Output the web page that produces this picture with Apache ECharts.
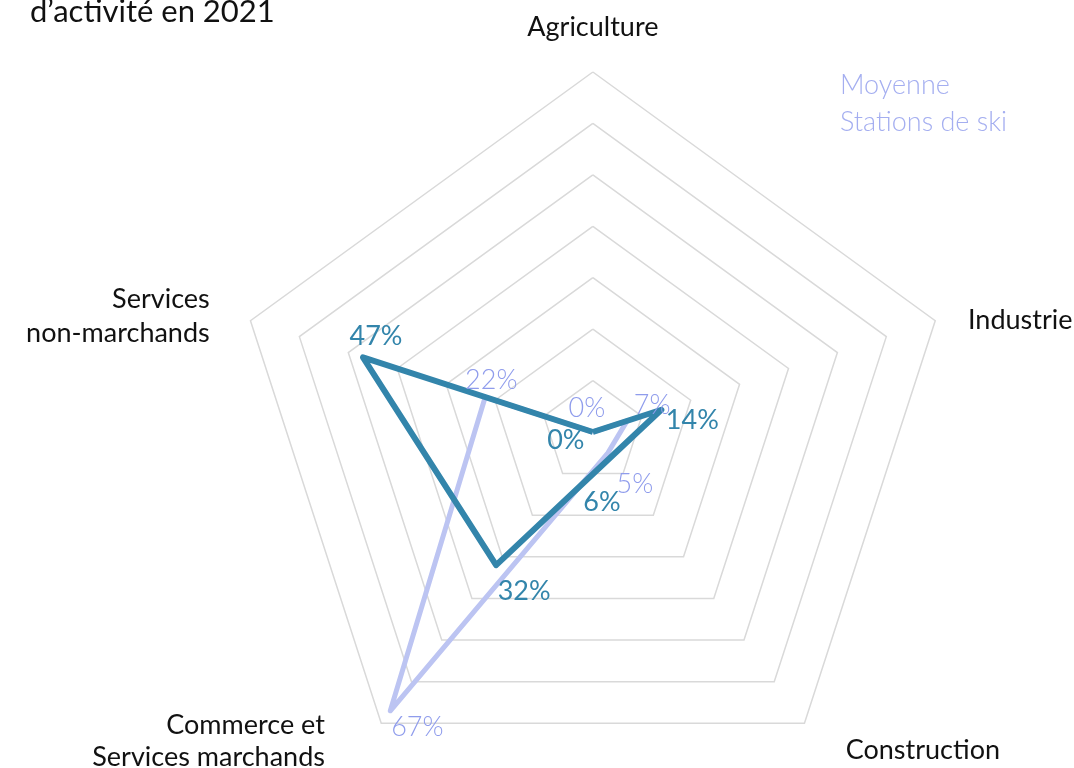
<!DOCTYPE html>
<html>
<head>
<meta charset="utf-8">
<script src="https://cdn.jsdelivr.net/npm/echarts@6/dist/echarts.min.js"></script>
<style>
  html, body { margin: 0; padding: 0; background: #fff; }
  #chart { width: 1074px; height: 768px; }
</style>
</head>
<body>
<div id="chart"></div>
<script>
// secteurs, dans l'ordre du radar (sens anti-horaire depuis le haut)
const categories = ['Agriculture', 'Services\nnon-marchands', 'Commerce et\nServices marchands', 'Construction', 'Industrie']
const stationValues = [0, 47, 32, 6, 14]
const moyenneValues = [0, 22, 67, 5, 7]
const maxValue = 70

const darkColor = '#3385ab'
const lightColor = '#bcc4f2'
const lightText = '#8f9cec'
const font = 'Lato'

// décalage des étiquettes par rapport au sommet
const stationLabelOffsets = [[-27, 8], [13, -21], [28, 26], [-9, 45], [31, 11]]
const moyenneLabelOffsets = [[-6, -24], [6, -17], [27, 17], [27, 31], [25, -16]]

// une série invisible par sommet, pour placer chaque étiquette
function labelSeries(name, values, offsets, color, weight) {
  return values.map((v, k) => ({
    name: name,
    type: 'radar',
    silent: true,
    symbol: 'circle',
    symbolSize: 1,
    itemStyle: { color: 'rgba(0,0,0,0)' },
    lineStyle: { width: 0, opacity: 0 },
    label: {
      show: true,
      position: 'inside',
      offset: offsets[k],
      color: color,
      fontFamily: font,
      fontSize: 27,
      fontWeight: weight,
      formatter: (p) => (p.dimensionIndex === k ? p.value + '%' : ''),
    },
    data: [{ value: values }],
  }))
}

// petits réglages de position des noms d'axes (padding)
const nameKeys = ['agri', 'serv', 'comm', 'cons', 'ind']
const namePad = {
  agri: [[0, 0, 0, 0], [0, 0, 0, 0]],
  serv: [[11, 16, 0, 0], [5, 16, 0, 0]],
  comm: [[0, 41, 0, 0], [5, 41, 15, 0]],
  cons: [[0, 0, 0, 0], [12, 0, 0, 26]],
  ind: [[0, 0, 0, 0], [16, 0, 0, 8]],
}
const rich = {}
nameKeys.forEach((k) => {
  const base = { fontFamily: font, fontSize: 27, lineHeight: 37, color: '#111' }
  rich[k] = Object.assign({ padding: namePad[k][0] }, base)
  rich[k + 'L'] = Object.assign({ padding: namePad[k][1] }, base)
})

const chart = echarts.init(document.getElementById('chart'))
chart.setOption({
  animation: false,
  title: {
    text: 'd’activité en 2021',
    left: 25,
    top: -9,
    textStyle: { fontFamily: font, fontSize: 31, fontWeight: 'normal', color: '#111' },
  },
  legend: {
    data: ['Moyenne\nStations de ski'],
    left: 830,
    top: 62,
    icon: 'none',
    itemWidth: 0,
    selectedMode: false,
    textStyle: { fontFamily: font, fontSize: 27, fontWeight: 300, color: '#a4aef0', lineHeight: 37 },
  },
  radar: {
    center: ['55.2%', '56.25%'],
    radius: 360,
    splitNumber: 7,
    shape: 'polygon',
    nameGap: 26,
    indicator: categories.map((c) => ({ name: c, min: 0, max: maxValue })),
    axisName: {
      color: '#111',
      fontFamily: font,
      fontSize: 27,
      formatter: (name) => {
        const k = nameKeys[categories.indexOf(name)]
        const lines = name.split('\n')
        return lines.map((l, i) => '{' + k + (i === lines.length - 1 ? 'L' : '') + '|' + l + '}').join('\n')
      },
      rich: rich,
    },
    axisLine: { show: false },
    axisTick: { show: false },
    axisLabel: { show: false },
    splitArea: { show: false },
    splitLine: { lineStyle: { color: '#d9d9d9', width: 1.5 } },
  },
  series: [
    {
      name: 'Moyenne\nStations de ski',
      type: 'radar',
      symbol: 'none',
      itemStyle: { color: lightColor },
      lineStyle: { color: lightColor, width: 5 },
      data: [{ value: moyenneValues }],
    },
    ...labelSeries('Moyenne\nStations de ski', moyenneValues, moyenneLabelOffsets, lightText, 300),
    {
      name: 'Station',
      type: 'radar',
      symbol: 'none',
      itemStyle: { color: darkColor },
      lineStyle: { color: darkColor, width: 6 },
      data: [{ value: stationValues }],
    },
    ...labelSeries('Station', stationValues, stationLabelOffsets, darkColor, 'normal'),
  ],
})
</script>
</body>
</html>
